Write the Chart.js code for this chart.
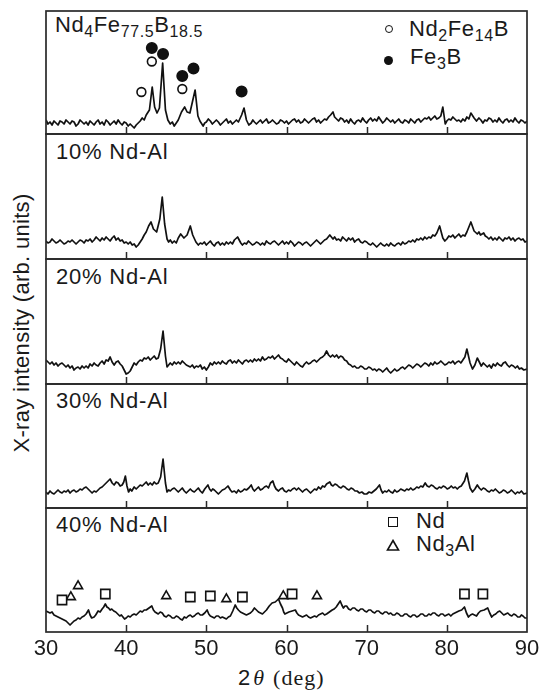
<!DOCTYPE html>
<html><head><meta charset="utf-8">
<script src="https://cdn.jsdelivr.net/npm/chart.js@4.4.1/dist/chart.umd.min.js"></script>
<style>
html,body{margin:0;padding:0;background:#fff}
#wrap{position:relative;width:544px;height:693px;overflow:hidden;font-family:"Liberation Sans",Arial,Helvetica,sans-serif;color:#1a1a1a}
.pc{position:absolute}
.t{position:absolute;white-space:nowrap;line-height:1;font-size:22px;letter-spacing:0.8px}
.s{font-size:16px;position:relative;top:5px}
.sym{position:absolute;box-sizing:border-box}
</style></head>
<body><div id="wrap">
<div class="t" style="left:55px;top:14px;letter-spacing:0.6px">Nd<span class="s">4</span>Fe<span class="s">77.5</span>B<span class="s">18.5</span></div>
<div class="t" style="left:56px;top:141px">10% Nd-Al</div>
<div class="t" style="left:56px;top:266px">20% Nd-Al</div>
<div class="t" style="left:56px;top:390px">30% Nd-Al</div>
<div class="t" style="left:56px;top:514px">40% Nd-Al</div>

<div class="sym" style="left:384.5px;top:24.5px;width:8px;height:8px;border:1.7px solid #111;border-radius:50%"></div>
<div class="t" style="left:409px;top:18px;letter-spacing:0.6px">Nd<span class="s">2</span>Fe<span class="s">14</span>B</div>
<div class="sym" style="left:383.5px;top:55.5px;width:9.5px;height:9.5px;background:#111;border-radius:50%"></div>
<div class="t" style="left:410px;top:46px;letter-spacing:0.6px">Fe<span class="s">3</span>B</div>

<div class="sym" style="left:388px;top:517px;width:10px;height:10px;border:1.6px solid #111"></div>
<div class="t" style="left:416px;top:510px;letter-spacing:0.6px">Nd</div>
<svg class="sym" style="left:385.5px;top:539px" width="14" height="13"><polygon points="7,1.5 12.5,11 1.5,11" fill="none" stroke="#111" stroke-width="1.6"/></svg>
<div class="t" style="left:416px;top:533px;letter-spacing:0.6px">Nd<span class="s">3</span>Al</div>

<div class="t" style="left:22px;top:323px;font-size:22px;letter-spacing:0.3px;transform:translate(-50%,-50%) rotate(-90deg)">X-ray intensity (arb. units)</div>
<div class="t" style="left:238px;top:667px;letter-spacing:0">2<span style="font-family:'Liberation Serif',serif;font-style:italic;margin-left:3px">θ</span><span style="font-family:'Liberation Serif',serif;margin-left:9px;letter-spacing:1px">(deg)</span></div>
</div>
<script>
// ---- data: [2θ (deg), intensity (arb. units above each panel's baseline)] ----
const xTicks = [30, 40, 50, 60, 70, 80, 90];

const patternBase = [
[30,14],[30.25,10],[30.5,12],[30.75,9],[31,13],[31.25,11],[31.5,9],[31.75,13],[32,12],[32.25,10],[32.5,14],[32.75,12],[33,10],[33.25,13],[33.5,12],[33.75,8],[34,10],[34.25,14],[34.5,12],[34.75,10],[35,12],[35.25,9],[35.5,13],[35.75,11],[36,9],[36.25,12],[36.5,14],[36.75,10],[37,12],[37.25,9],[37.5,14],[37.75,12],[38,9],[38.25,11],[38.5,13],[38.75,10],[39,14],[39.25,11],[39.5,9],[39.75,12],[40,11],[40.25,8],[40.5,10],[40.75,8],[41,6],[41.25,9],[41.5,11],[41.75,13],[42,16],[42.25,14],[42.5,19],[42.9,24],[43.25,47],[43.55,27],[43.85,21],[44.15,26],[44.55,71],[44.9,24],[45.2,14],[45.5,10],[45.75,12],[46,8],[46.25,11],[46.5,14],[46.9,22],[47.3,27],[47.6,22],[47.95,21],[48.6,44],[48.95,18],[49.2,13],[49.6,8],[49.8,11],[50,12],[50.25,15],[50.5,13],[50.75,10],[51,12],[51.25,14],[51.5,12],[51.75,9],[52,11],[52.25,13],[52.5,15],[52.75,11],[53,13],[53.25,10],[53.5,12],[53.75,14],[54,12],[54.4,19],[54.7,26],[55,14],[55.3,9],[55.6,11],[55.8,14],[56,12],[56.25,10],[56.5,12],[56.75,14],[57,11],[57.25,13],[57.5,15],[57.75,11],[58,12],[58.25,14],[58.5,12],[58.75,10],[59,11],[59.25,14],[59.5,13],[59.75,11],[60,13],[60.25,10],[60.5,12],[60.75,14],[61,15],[61.25,12],[61.5,14],[61.75,11],[62,12],[62.25,15],[62.5,13],[62.75,11],[63,13],[63.25,15],[63.5,16],[63.75,12],[64,14],[64.25,11],[64.5,13],[64.75,15],[65,14],[65.25,17],[65.5,19],[65.8,22],[66,17],[66.25,15],[66.5,13],[66.75,16],[67,15],[67.25,12],[67.5,14],[67.75,11],[68,15],[68.25,12],[68.5,10],[68.75,13],[69,14],[69.25,12],[69.5,16],[69.75,13],[70,11],[70.25,14],[70.5,16],[70.75,13],[71,15],[71.25,13],[71.5,17],[71.75,14],[72,11],[72.25,13],[72.5,16],[72.75,14],[73,12],[73.25,14],[73.5,11],[73.75,13],[74,15],[74.25,12],[74.5,11],[74.75,14],[75,13],[75.25,11],[75.5,15],[75.75,13],[76,11],[76.25,14],[76.5,15],[76.75,12],[77,14],[77.25,16],[77.5,15],[77.75,17],[78,14],[78.25,16],[78.5,18],[78.75,15],[79,16],[79.25,18],[79.5,27],[79.8,10],[80,13],[80.25,15],[80.5,14],[80.75,17],[81,15],[81.25,13],[81.5,14],[81.75,12],[82,15],[82.25,13],[82.5,17],[82.75,15],[83,21],[83.4,16],[83.7,13],[84,16],[84.25,14],[84.5,11],[84.75,14],[85,13],[85.25,16],[85.5,15],[85.75,12],[86,14],[86.25,12],[86.5,16],[86.75,13],[87,11],[87.25,14],[87.5,15],[87.75,12],[88,14],[88.25,12],[88.5,16],[88.75,13],[89,11],[89.25,14],[89.5,13],[89.75,11],[90,13]
];
const pattern10 = [
[30,18],[30.25,16],[30.5,17],[30.75,20],[31,18],[31.25,16],[31.5,17],[31.75,19],[32,17],[32.25,15],[32.5,16],[32.75,18],[33,17],[33.25,19],[33.5,17],[33.75,15],[34,17],[34.25,19],[34.5,18],[34.75,16],[35,19],[35.25,18],[35.5,20],[35.75,17],[36,19],[36.25,22],[36.5,20],[36.75,18],[37,21],[37.25,19],[37.5,22],[37.75,20],[38,18],[38.25,21],[38.5,23],[38.75,19],[39,21],[39.25,18],[39.5,19],[39.75,16],[40,17],[40.25,15],[40.5,17],[40.75,14],[41,15],[41.25,12],[41.5,14],[41.75,17],[42,20],[42.25,24],[42.5,27],[42.8,33],[43.1,37],[43.4,30],[43.8,27],[44.2,40],[44.5,62],[44.8,35],[45.1,20],[45.3,17],[45.5,19],[45.75,16],[46,18],[46.25,16],[46.5,21],[46.8,25],[47.2,21],[47.6,24],[48,33],[48.3,24],[48.7,17],[49,14],[49.25,16],[49.5,15],[49.75,17],[50,14],[50.25,16],[50.5,18],[50.75,15],[51,13],[51.25,16],[51.5,17],[51.75,14],[52,16],[52.25,14],[52.5,17],[52.75,15],[53,17],[53.25,15],[53.5,19],[53.9,22],[54.3,16],[54.5,14],[54.75,16],[55,15],[55.25,18],[55.5,16],[55.75,14],[56,15],[56.25,17],[56.5,16],[56.75,14],[57,16],[57.25,14],[57.5,18],[57.75,16],[58,15],[58.25,17],[58.5,18],[58.75,16],[59,14],[59.25,16],[59.5,18],[59.75,15],[60,17],[60.25,15],[60.5,18],[60.75,16],[61,13],[61.25,15],[61.5,17],[61.75,16],[62,14],[62.25,16],[62.5,17],[62.75,15],[63,13],[63.25,15],[63.5,17],[63.75,19],[64,17],[64.25,15],[64.5,17],[64.75,19],[65,20],[65.4,24],[65.8,20],[66,22],[66.25,19],[66.5,20],[66.75,18],[67,22],[67.25,20],[67.5,18],[67.75,21],[68,19],[68.25,21],[68.5,17],[68.75,19],[69,20],[69.25,17],[69.5,16],[69.75,18],[70,17],[70.25,15],[70.5,14],[70.75,16],[71,14],[71.25,12],[71.5,14],[71.75,16],[72,14],[72.25,13],[72.5,15],[72.75,13],[73,16],[73.25,14],[73.5,13],[73.75,15],[74,16],[74.25,14],[74.5,17],[74.75,15],[75,16],[75.25,18],[75.5,17],[75.75,19],[76,17],[76.25,20],[76.5,19],[76.75,21],[77,19],[77.25,22],[77.5,20],[77.75,22],[78,21],[78.25,24],[78.5,23],[78.75,26],[79.1,33],[79.5,21],[79.75,18],[80,20],[80.25,23],[80.5,22],[80.75,24],[81,21],[81.25,23],[81.5,25],[81.75,22],[82,24],[82.25,23],[82.5,27],[83,37],[83.4,28],[83.8,25],[84,27],[84.2,24],[84.6,26],[84.8,23],[85,22],[85.25,20],[85.5,22],[85.75,19],[86,21],[86.25,19],[86.5,22],[86.75,20],[87,18],[87.25,21],[87.5,20],[87.75,22],[88,19],[88.25,21],[88.5,18],[88.75,20],[89,21],[89.25,19],[89.5,20],[89.75,17],[90,18]
];
const pattern20 = [
[30,24],[30.25,22],[30.5,20],[30.75,22],[31,19],[31.25,21],[31.5,18],[31.75,20],[32,21],[32.25,19],[32.5,17],[32.75,19],[33,16],[33.25,18],[33.5,14],[33.75,16],[34,17],[34.25,15],[34.5,18],[34.75,16],[35,18],[35.25,16],[35.5,20],[35.75,18],[36,21],[36.25,19],[36.5,18],[36.75,21],[37,23],[37.25,20],[37.5,24],[37.75,23],[38,27],[38.25,22],[38.5,19],[38.75,22],[39,23],[39.25,20],[39.5,18],[39.75,14],[40,10],[40.25,11],[40.5,13],[40.75,17],[41,21],[41.25,19],[41.5,22],[41.75,24],[42,23],[42.25,26],[42.5,25],[42.75,27],[43,24],[43.25,26],[43.5,28],[43.75,25],[44,26],[44.3,35],[44.6,53],[44.9,28],[45.1,17],[45.3,19],[45.5,21],[45.75,19],[46,22],[46.25,20],[46.5,22],[46.75,20],[47,23],[47.25,21],[47.5,19],[47.75,18],[48,17],[48.25,19],[48.5,16],[48.75,18],[49,17],[49.25,19],[49.5,15],[49.75,17],[50,14],[50.25,17],[50.5,21],[50.75,19],[51,22],[51.25,20],[51.5,22],[51.75,20],[52,23],[52.25,21],[52.5,20],[52.75,23],[53,24],[53.25,21],[53.5,23],[53.75,21],[54,24],[54.25,22],[54.5,20],[54.75,23],[55,24],[55.25,22],[55.5,24],[55.75,22],[56,25],[56.25,23],[56.5,25],[56.75,23],[57,27],[57.25,24],[57.5,25],[57.75,27],[58,26],[58.25,28],[58.5,25],[58.75,27],[59,29],[59.25,26],[59.5,25],[59.75,23],[60,22],[60.25,25],[60.5,23],[60.75,21],[61,19],[61.25,22],[61.5,20],[61.75,18],[62,17],[62.25,20],[62.5,22],[62.75,20],[63,21],[63.25,23],[63.5,24],[63.75,22],[64,24],[64.25,26],[64.5,27],[64.75,29],[65,33],[65.25,29],[65.5,27],[65.75,29],[66,27],[66.25,29],[66.5,26],[66.75,28],[67,27],[67.25,24],[67.5,23],[67.75,20],[68,19],[68.25,17],[68.5,18],[68.75,16],[69,16],[69.25,18],[69.5,17],[69.75,15],[70,15],[70.25,17],[70.5,16],[70.75,14],[71,15],[71.25,13],[71.5,15],[71.75,14],[72,12],[72.25,14],[72.5,16],[72.75,13],[73,11],[73.25,13],[73.5,15],[73.75,13],[74,14],[74.25,16],[74.5,17],[74.75,15],[75,17],[75.25,19],[75.5,18],[75.75,16],[76,18],[76.25,20],[76.5,19],[76.75,17],[77,19],[77.25,21],[77.5,20],[77.75,18],[78,21],[78.25,19],[78.5,22],[78.75,20],[79,21],[79.25,23],[79.5,21],[79.75,19],[80,20],[80.25,22],[80.5,21],[80.75,23],[81,20],[81.25,22],[81.5,23],[81.75,21],[82,24],[82.25,27],[82.5,35],[82.9,21],[83.2,15],[83.5,19],[83.8,26],[84.05,22],[84.3,18],[84.55,21],[84.8,19],[85.05,17],[85.3,19],[85.55,16],[85.8,20],[86.05,18],[86.3,21],[86.55,19],[86.8,18],[87.05,21],[87.3,22],[87.55,19],[87.8,17],[88.05,19],[88.3,18],[88.55,16],[88.8,18],[89.05,15],[89.3,16],[89.6,14],[90,15]
];
const pattern30 = [
[30,16],[30.25,14],[30.5,17],[30.75,15],[31,14],[31.25,16],[31.5,18],[31.75,16],[32,15],[32.25,17],[32.5,16],[32.75,18],[33,15],[33.25,17],[33.5,18],[33.75,16],[34,17],[34.25,19],[34.5,18],[34.75,20],[35,21],[35.25,19],[35.5,17],[35.75,15],[36,17],[36.25,16],[36.5,18],[36.75,20],[37,21],[37.25,23],[37.5,25],[37.75,27],[38,29],[38.25,25],[38.5,23],[38.75,26],[39,25],[39.25,22],[39.5,23],[39.7,26],[39.9,32],[40.1,22],[40.3,16],[40.5,19],[40.7,17],[41,21],[41.25,19],[41.5,21],[41.75,23],[42,22],[42.25,24],[42.5,26],[42.75,23],[43,25],[43.25,23],[43.5,26],[43.75,24],[44,25],[44.3,31],[44.6,49],[44.9,25],[45.1,16],[45.3,18],[45.5,17],[45.75,19],[46,20],[46.25,18],[46.5,16],[46.75,18],[47,20],[47.25,17],[47.5,15],[47.75,17],[48,19],[48.25,17],[48.5,16],[48.75,18],[49,20],[49.25,17],[49.5,15],[49.8,19],[50.2,23],[50.4,19],[50.6,17],[50.8,19],[51,18],[51.25,16],[51.5,14],[51.75,16],[52,18],[52.3,19],[52.7,22],[53,18],[53.2,16],[53.5,17],[53.75,15],[54,18],[54.25,16],[54.5,17],[54.75,19],[55,18],[55.3,20],[55.6,23],[55.8,19],[56,17],[56.25,19],[56.5,21],[56.75,18],[57,19],[57.25,21],[57.5,22],[57.75,20],[58,25],[58.3,27],[58.5,22],[58.7,19],[59,17],[59.25,19],[59.5,20],[59.75,17],[60,16],[60.25,18],[60.5,17],[60.75,19],[61,20],[61.25,18],[61.5,20],[61.75,18],[62,16],[62.25,18],[62.5,19],[62.75,17],[63,15],[63.25,17],[63.5,19],[63.75,18],[64,21],[64.25,19],[64.5,22],[64.75,21],[65,24],[65.4,26],[65.6,23],[65.8,22],[66.05,24],[66.3,23],[66.55,21],[66.8,20],[67.05,22],[67.3,21],[67.55,19],[67.8,18],[68.05,20],[68.3,19],[68.55,17],[68.8,17],[69.1,15],[69.4,16],[69.7,14],[70,14],[70.3,16],[70.6,15],[70.9,17],[71.2,19],[71.6,23],[71.8,18],[72,15],[72.25,17],[72.5,16],[72.75,18],[73,16],[73.25,15],[73.5,18],[73.75,16],[74,17],[74.25,19],[74.5,18],[74.75,17],[75,19],[75.25,18],[75.5,20],[75.75,18],[76,19],[76.25,21],[76.5,20],[76.75,22],[77,21],[77.3,25],[77.55,22],[77.8,21],[78.05,23],[78.3,22],[78.55,20],[78.8,19],[79.05,21],[79.3,20],[79.55,22],[79.8,21],[80.05,19],[80.3,20],[80.55,22],[80.8,20],[81.05,21],[81.3,19],[81.55,21],[81.8,22],[82.2,27],[82.5,35],[82.7,27],[82.9,20],[83.2,16],[83.5,19],[83.8,23],[84.05,20],[84.3,18],[84.55,20],[84.8,19],[85.05,17],[85.3,16],[85.55,18],[85.8,17],[86.05,19],[86.3,17],[86.55,15],[86.8,16],[87.05,18],[87.3,17],[87.55,15],[87.8,16],[88.05,18],[88.3,16],[88.55,14],[88.8,16],[89.05,15],[89.3,17],[89.6,14],[90,15]
];
const pattern40 = [
[30,21],[30.25,20],[30.5,19],[30.75,20],[31,17],[31.25,16],[31.5,15],[31.75,14],[32,13],[32.25,12],[32.5,11],[32.75,9],[33,7],[33.25,9],[33.5,11],[33.75,12],[34,14],[34.25,13],[34.5,15],[34.75,16],[35,18],[35.3,22],[35.5,17],[35.7,14],[36,15],[36.2,17],[36.5,21],[36.75,20],[37,23],[37.2,25],[37.4,28],[37.6,25],[37.8,24],[38,22],[38.2,23],[38.45,21],[38.7,20],[38.95,18],[39.2,16],[39.4,17],[39.6,15],[39.8,13],[40,14],[40.25,16],[40.5,15],[40.75,17],[41,18],[41.25,17],[41.5,19],[41.75,21],[42,20],[42.25,22],[42.5,22],[42.85,24],[43.2,26],[43.4,22],[43.6,20],[43.8,19],[44,18],[44.25,20],[44.5,19],[44.75,16],[45,15],[45.25,17],[45.5,16],[45.75,14],[46,14],[46.25,16],[46.5,15],[46.75,13],[47,12],[47.25,15],[47.5,14],[47.75,16],[48,17],[48.25,15],[48.5,16],[48.75,18],[49,19],[49.25,17],[49.5,17],[49.8,19],[50.1,22],[50.3,18],[50.5,16],[50.75,15],[51,14],[51.25,16],[51.5,16],[51.75,14],[52,15],[52.25,14],[52.5,13],[52.75,15],[53,16],[53.3,21],[53.6,27],[53.8,24],[54,22],[54.25,20],[54.5,19],[54.75,18],[55,17],[55.25,18],[55.5,19],[55.75,21],[56,24],[56.25,22],[56.5,20],[56.75,19],[57,18],[57.25,20],[57.5,22],[57.85,26],[58.2,29],[58.6,30],[59,33],[59.25,28],[59.5,24],[59.65,20],[59.8,18],[60.05,19],[60.3,20],[60.7,21],[61.1,22],[61.3,19],[61.5,17],[61.75,16],[62,15],[62.25,16],[62.5,17],[62.75,15],[63,14],[63.25,15],[63.5,16],[63.75,15],[64,17],[64.25,18],[64.5,19],[64.75,17],[65,18],[65.35,20],[65.7,22],[65.95,23],[66.2,25],[66.45,28],[66.7,31],[66.9,27],[67.1,24],[67.3,26],[67.5,26],[67.75,23],[68,22],[68.25,24],[68.5,24],[68.75,22],[69,21],[69.25,23],[69.5,23],[69.75,21],[70,20],[70.25,22],[70.5,22],[70.75,20],[71,19],[71.25,21],[71.5,21],[71.75,19],[72,18],[72.25,20],[72.5,20],[72.75,18],[73,19],[73.25,17],[73.5,17],[73.75,19],[74,18],[74.25,16],[74.5,16],[74.75,18],[75,18],[75.25,16],[75.5,15],[75.75,17],[76,17],[76.25,15],[76.5,16],[76.75,18],[77,18],[77.25,16],[77.5,16],[77.75,18],[78,17],[78.25,19],[78.5,19],[78.75,17],[79,16],[79.25,18],[79.5,18],[79.75,16],[80,17],[80.25,18],[80.5,16],[80.75,18],[81,19],[81.25,20],[81.5,21],[81.85,22],[82.2,25],[82.45,19],[82.7,15],[82.95,17],[83.2,18],[83.45,17],[83.7,16],[83.95,19],[84.2,21],[84.65,22],[85.1,24],[85.35,19],[85.6,15],[85.85,17],[86.1,18],[86.35,20],[86.6,21],[86.85,19],[87.1,17],[87.35,18],[87.6,19],[87.85,17],[88.1,16],[88.35,18],[88.6,17],[88.85,15],[89.1,15],[89.3,17],[89.5,16],[89.75,14],[90,14]
];

// phase markers [2θ, marker height]
const nd2fe14bMarks = [[41.9,42],[43.2,72.5],[47.0,45]];
const fe3bMarks = [[43.2,86],[44.6,80],[47.0,58],[48.4,65.5],[54.4,42.5]];
const ndMarks = [[32.0,32],[37.4,38],[48.0,35],[50.5,36],[54.5,35],[60.7,38],[82.2,38],[84.5,38]];
const nd3alMarks = [[33.1,35],[34.0,46],[45.0,36],[52.5,33],[59.6,36],[63.8,36]];

// ---- layout ----
const plotLeft = 46, plotWidth = 481;
const panelTops = [11, 134, 259, 384, 508];
const panelHeights = [123, 125, 125, 124, 124];
const padX = 18, padY = 3, axisH = 36;
const ink = '#111', frameColor = '#2a2a2a';

const framePlugin = {
  id: 'frame',
  afterDraw(chart) {
    const {ctx, chartArea: a} = chart;
    const xs = chart.scales.x;
    ctx.save();
    ctx.strokeStyle = frameColor;
    ctx.lineWidth = 1.7;
    ctx.strokeRect(a.left, a.top, a.right - a.left, a.bottom - a.top);
    ctx.beginPath();
    xTicks.forEach(v => {
      if (v <= xs.min || v >= xs.max) return;
      const px = Math.round(xs.getPixelForValue(v)) + 0.5;
      ctx.moveTo(px, a.bottom);
      ctx.lineTo(px, a.bottom - 7);
    });
    ctx.lineWidth = 1.5;
    ctx.stroke();
    ctx.restore();
  }
};

function markerSet(points, style, radius, filled) {
  return {
    data: points, showLine: false, pointStyle: style, pointRadius: radius,
    pointBorderWidth: 1.6, pointBorderColor: ink,
    pointBackgroundColor: filled ? ink : '#fff', clip: false
  };
}

function buildChart(cv, i, series, markers, bottom) {
  return new Chart(cv, {
    type: 'line',
    data: {
      datasets: [{
        data: series, borderColor: ink, borderWidth: 1.7, pointRadius: 0,
        tension: 0, borderJoinStyle: 'round', fill: false
      }].concat(markers)
    },
    options: {
      responsive: false, maintainAspectRatio: false, animation: false, devicePixelRatio: 1, events: [],
      layout: {autoPadding: false, padding: {left: padX, right: padX, top: padY, bottom: padY}},
      plugins: {legend: {display: false}, tooltip: {enabled: false}},
      scales: {
        x: {
          type: 'linear', min: 30, max: 90, display: bottom,
          afterBuildTicks: s => { s.ticks = xTicks.map(v => ({value: v})); },
          afterFit: s => { if (bottom) s.height = axisH; },
          ticks: {font: {family: "'Liberation Sans', Arial, sans-serif", size: 22}, color: '#1a1a1a', padding: 4, maxRotation: 0},
          grid: {display: false, drawTicks: false},
          border: {display: false}
        },
        y: {type: 'linear', min: 0, max: panelHeights[i], display: false}
      }
    },
    plugins: [framePlugin]
  });
}

function makePanel(i, series, markers, bottom) {
  const wrap = document.getElementById('wrap');
  const div = document.createElement('div');
  div.className = 'pc';
  const cv = document.createElement('canvas');
  cv.width = plotWidth + 2 * padX;
  cv.height = panelHeights[i] + 2 * padY + (bottom ? axisH : 0);
  div.appendChild(cv);
  wrap.appendChild(div);
  let chart = buildChart(cv, i, series, markers, bottom);
  let a = chart.chartArea;
  const dh = Math.round(panelHeights[i] - (a.bottom - a.top));
  const dw = Math.round(plotWidth - (a.right - a.left));
  if (dh !== 0 || dw !== 0) {
    chart.destroy();
    cv.width += dw; cv.height += dh;
    chart = buildChart(cv, i, series, markers, bottom);
    a = chart.chartArea;
  }
  div.style.left = (plotLeft - a.left) + 'px';
  div.style.top = (panelTops[i] - a.top) + 'px';
}

makePanel(0, patternBase, [
  markerSet(nd2fe14bMarks, 'circle', 4.4, false),
  markerSet(fe3bMarks, 'circle', 5.2, true)
], false);
makePanel(1, pattern10, [], false);
makePanel(2, pattern20, [], false);
makePanel(3, pattern30, [], false);
makePanel(4, pattern40, [
  markerSet(ndMarks, 'rect', 6.5, false),
  markerSet(nd3alMarks, 'triangle', 5.2, false)
], true);
</script>
</body></html>
